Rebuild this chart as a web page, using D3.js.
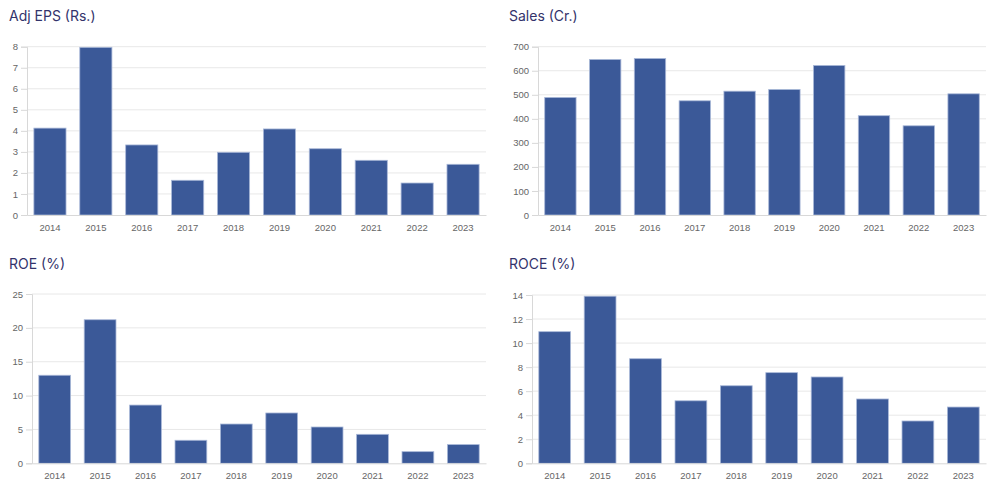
<!DOCTYPE html>
<html>
<head>
<meta charset="utf-8">
<script src="https://cdn.jsdelivr.net/npm/d3@7"></script>
<style>
  body { margin: 0; background: #fff; }
  svg { display: block; }
  .title { font-family: Inter, "Noto Sans", sans-serif; font-size: 14px; fill: #33336b; }
  .tick text { font-family: "Liberation Sans", Arial, sans-serif; font-size: 9.5px; fill: #666; }
</style>
</head>
<body>
<svg id="chart"></svg>
<script>
const years = ["2014", "2015", "2016", "2017", "2018", "2019", "2020", "2021", "2022", "2023"];

const epsValues = [4.13, 7.97, 3.33, 1.65, 2.98, 4.09, 3.15, 2.6, 1.52, 2.41];
const salesValues = [489, 647, 651, 475, 515, 522, 622, 413, 371, 504];
const roeValues = [13.0, 21.2, 8.6, 3.4, 5.8, 7.43, 5.36, 4.28, 1.72, 2.76];
const roceValues = [10.95, 13.9, 8.7, 5.2, 6.45, 7.54, 7.18, 5.35, 3.52, 4.68];

const epsTicks = [0, 1, 2, 3, 4, 5, 6, 7, 8];
const salesTicks = [0, 100, 200, 300, 400, 500, 600, 700];
const roeTicks = [0, 5, 10, 15, 20, 25];
const roceTicks = [0, 2, 4, 6, 8, 10, 12, 14];

const width = 994;
const height = 498;

const svg = d3.select("#chart").attr("width", width).attr("height", height);

const panels = [
  { title: "Adj EPS (Rs.)", values: epsValues, ticks: epsTicks, x0: 27, x1: 486, y0: 46.7, y1: 215, tx: 9, ty: 21 },
  { title: "Sales (Cr.)", values: salesValues, ticks: salesTicks, x0: 538, x1: 986, y0: 46.7, y1: 215, tx: 509, ty: 21 },
  { title: "ROE (%)", values: roeValues, ticks: roeTicks, x0: 32, x1: 486, y0: 294, y1: 463.3, tx: 9, ty: 269 },
  { title: "ROCE (%)", values: roceValues, ticks: roceTicks, x0: 532, x1: 986, y0: 295, y1: 463.3, tx: 509, ty: 269 }
];

const drawPanel = (p) => {
  const g = svg.append("g");

  const x = d3.scaleBand()
    .domain(years)
    .range([p.x0, p.x1])
    .paddingInner(0.3)
    .paddingOuter(0.15);

  const y = d3.scaleLinear()
    .domain([0, d3.max(p.ticks)])
    .range([p.y1, p.y0]);

  // grid
  g.append("g")
    .selectAll("line")
    .data(p.ticks.slice(1))
    .enter()
    .append("line")
    .attr("x1", p.x0)
    .attr("x2", p.x1)
    .attr("y1", (d) => y(d))
    .attr("y2", (d) => y(d))
    .attr("stroke", "#e8e8e8")
    .attr("stroke-width", 1);

  // bars
  g.append("g")
    .selectAll("rect")
    .data(p.values)
    .enter()
    .append("rect")
    .attr("x", (d, i) => x(years[i]))
    .attr("y", (d) => y(d))
    .attr("width", x.bandwidth())
    .attr("height", (d) => y(0) - y(d))
    .attr("fill", "#3b5998")
    .attr("stroke", "#a9b8d8")
    .attr("stroke-width", 0.8);

  // y axis
  const yAxis = g.append("g")
    .attr("transform", `translate(${p.x0}, 0)`)
    .call(d3.axisLeft(y).tickValues(p.ticks).tickSize(6).tickPadding(3).tickFormat(d3.format("d")));
  yAxis.select(".domain").attr("stroke", "#d8d8d8");
  yAxis.selectAll(".tick line").attr("stroke", "#d8d8d8");

  // x axis
  const xAxis = g.append("g")
    .attr("transform", `translate(0, ${p.y1})`)
    .call(d3.axisBottom(x).tickSize(0).tickPadding(9));
  xAxis.select(".domain").attr("stroke", "#d8d8d8");

  // titre
  svg.append("text")
    .attr("class", "title")
    .attr("x", p.tx)
    .attr("y", p.ty)
    .text(p.title);
};

panels.forEach(drawPanel);
</script>
</body>
</html>
